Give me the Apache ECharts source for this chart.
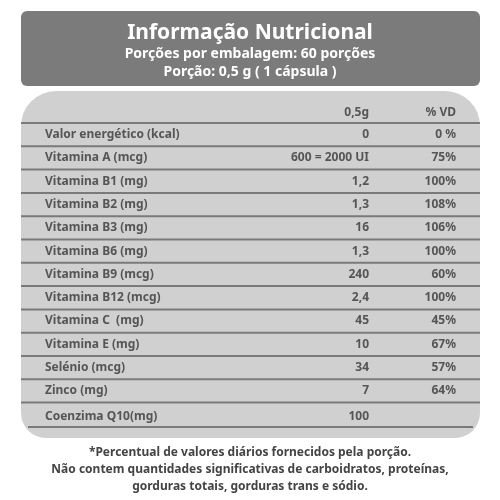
<!DOCTYPE html>
<html><head><meta charset="utf-8">
<script src="https://cdn.jsdelivr.net/npm/echarts@6/dist/echarts.min.js"></script>
<style>html,body{margin:0;padding:0;background:#fff}#c{width:500px;height:500px}</style>
</head><body><div id="c"></div>
<script>
const nutrients = ["Valor energético (kcal)","Vitamina A (mcg)","Vitamina B1 (mg)","Vitamina B2 (mg)","Vitamina B3 (mg)","Vitamina B6 (mg)","Vitamina B9 (mcg)","Vitamina B12 (mcg)","Vitamina C  (mg)","Vitamina E (mg)","Selénio (mcg)","Zinco (mg)","Coenzima Q10(mg)"];
const amounts = ["0","600 = 2000 UI","1,2","1,3","16","1,3","240","2,4","45","10","34","7","100"];
const vd = ["0 %","75%","100%","108%","106%","100%","60%","100%","45%","67%","57%","64%",""];
const headers = ["0,5g","% VD"];
const titleLines = ["Informação Nutricional","Porções por embalagem: 60 porções","Porção: 0,5 g ( 1 cápsula )"];
const footLines = ["*Percentual de valores diários fornecidos pela porção.","Não contem quantidades significativas de carboidratos, proteínas,","gorduras totais, gorduras trans e sódio."];

const F = "'Noto Sans', sans-serif";
const txtCol = "#555";
const g = [];
g.push({type:'rect',shape:{x:21,y:11,width:459,height:75,r:6},style:{fill:'#7b7b7b'}});
g.push({type:'text',x:250,y:33,style:{text:titleLines[0],fill:'#fff',font:'bold 21px '+F,textAlign:'center',textVerticalAlign:'middle'}});
g.push({type:'text',x:250,y:54,style:{text:titleLines[1],fill:'#fff',font:'bold 14px '+F,textAlign:'center',textVerticalAlign:'middle'}});
g.push({type:'text',x:250,y:72,style:{text:titleLines[2],fill:'#fff',font:'bold 14px '+F,textAlign:'center',textVerticalAlign:'middle'}});
g.push({type:'rect',shape:{x:21,y:91,width:459,height:347,r:[35,35,25,25]},style:{fill:'#d0d0d0'}});
const top0 = 123, rh = 23.3;
g.push({type:'text',x:369,y:113,style:{text:headers[0],fill:txtCol,font:'bold 12px '+F,textAlign:'right',textVerticalAlign:'middle'}});
g.push({type:'text',x:456,y:113,style:{text:headers[1],fill:txtCol,font:'bold 12px '+F,textAlign:'right',textVerticalAlign:'middle'}});
nutrients.forEach((n,i)=>{
  const y0 = top0 + i*rh;
  const last = i===nutrients.length-1;
  const cy = last ? y0+14 : y0+rh/2;
  g.push({type:'line',shape:{x1:21,y1:y0,x2:480,y2:y0},style:{stroke:'#7a7a7a',lineWidth:2}});
  g.push({type:'text',x:45,y:cy,style:{text:n,fill:txtCol,font:'bold 12px '+F,textVerticalAlign:'middle'}});
  g.push({type:'text',x:369,y:cy,style:{text:amounts[i],fill:txtCol,font:'bold 12px '+F,textAlign:'right',textVerticalAlign:'middle'}});
  g.push({type:'text',x:456,y:cy,style:{text:vd[i],fill:txtCol,font:'bold 12px '+F,textAlign:'right',textVerticalAlign:'middle'}});
});
g.push({type:'line',shape:{x1:28,y1:427,x2:473,y2:427},style:{stroke:'#7a7a7a',lineWidth:2}});
footLines.forEach((t,i)=>{
  g.push({type:'text',x:250,y:453+i*17,style:{text:t,fill:'#444',font:'bold 12px '+F,textAlign:'center',textVerticalAlign:'middle'}});
});
const chart = echarts.init(document.getElementById('c'));
chart.setOption({animation:false,graphic:g});
</script></body></html>
